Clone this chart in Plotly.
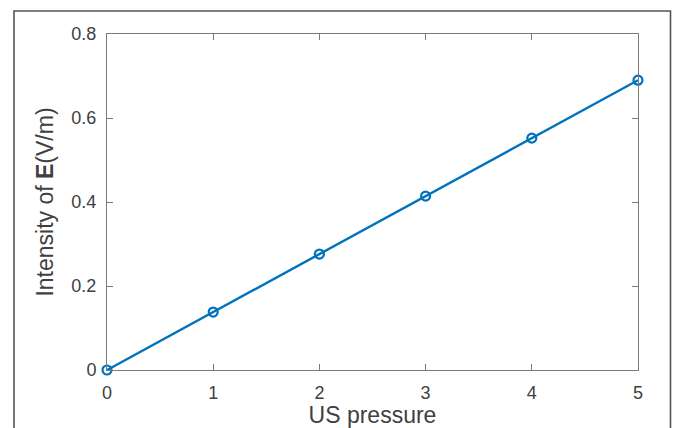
import plotly.graph_objects as go

us_pressure = [0, 1, 2, 3, 4, 5]
intensity = [0.0, 0.138, 0.276, 0.414, 0.552, 0.690]
x_ticks = [0, 1, 2, 3, 4, 5]
y_ticks = [0, 0.2, 0.4, 0.6, 0.8]
y_tick_text = ["0", "0.2", "0.4", "0.6", "0.8"]

L, R, T, B = 107, 35, 34, 58
W, H = 673, 428
pw, ph = W - L - R, H - T - B

FONT = "Liberation Sans, Arial, sans-serif"

fig = go.Figure()
fig.add_trace(go.Scatter(
    x=us_pressure, y=intensity, mode="lines+markers",
    line=dict(color="#0072BD", width=2.4),
    marker=dict(symbol="circle-open", size=9, color="#0072BD", line=dict(width=2.2)),
    cliponaxis=False, showlegend=False,
))

axis_common = dict(
    showgrid=False, zeroline=False, showline=True, linecolor="#7a7a7a", linewidth=1,
    mirror="ticks", ticks="inside", ticklen=6, tickcolor="#7a7a7a", tickwidth=1,
    tickfont=dict(family=FONT, size=18, color="#404040"),
)

fig.update_xaxes(range=[0, 5], tickvals=x_ticks, ticklabelstandoff=6, **axis_common,
                 title=dict(text="US pressure", standoff=8,
                            font=dict(family=FONT, size=23, color="#404040")))
fig.update_yaxes(range=[0, 0.8], tickvals=y_ticks, ticktext=y_tick_text, ticklabelstandoff=6,
                 **axis_common,
                 title=dict(text="Intensity of <b>E</b>(V/m)", standoff=11,
                            font=dict(family=FONT, size=23, color="#404040")))

def px_x(p):
    return (p - L) / pw

def px_y(p):
    return (H - B - p) / ph

fig.add_shape(type="rect", xref="paper", yref="paper",
              x0=px_x(14), x1=px_x(670.5), y0=px_y(440), y1=px_y(11),
              line=dict(color="#555555", width=1.6), layer="below")

fig.update_layout(
    width=W, height=H, margin=dict(l=L, r=R, t=T, b=B, autoexpand=False),
    paper_bgcolor="white", plot_bgcolor="white",
)
fig.write_html("out.html", config={"displayModeBar": False},
               post_script="document.body.style.margin='0';document.body.style.overflow='hidden';")
